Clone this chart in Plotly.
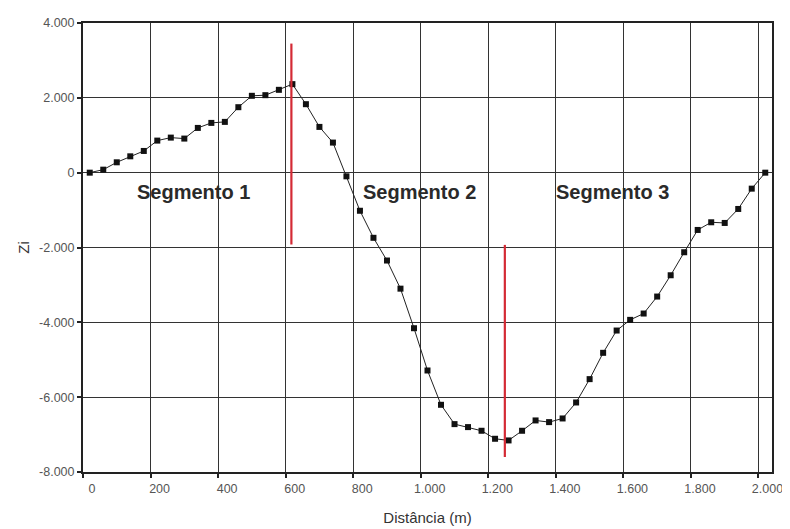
import plotly.graph_objects as go

# Data
distance = [20 + 40 * k for k in range(51)]
zi = [0, 80, 277, 437, 580, 857, 937, 911, 1196, 1330, 1357, 1750, 2054, 2071,
      2214, 2366, 1830, 1223, 804, -98, -1018, -1741, -2348, -3100, -4157, -5287,
      -6204, -6720, -6800, -6898, -7112, -7156, -6898, -6622, -6667, -6569, -6142,
      -5518, -4815, -4219, -3934, -3765, -3311, -2742, -2127, -1531, -1326, -1344,
      -970, -427, 0]

break1_x = [617, 617]
break1_y = [3450, -1920]
break2_x = [1249, 1249]
break2_y = [-1930, -7600]

seg_labels = ["Segmento 1", "Segmento 2", "Segmento 3"]
seg_x = [326, 995, 1569]
seg_y = [-520, -520, -520]

x_tickvals = [0, 200, 400, 600, 800, 1000, 1200, 1400, 1600, 1800, 2000]
x_ticktext = ["0", "200", "400", "600", "800", "1.000", "1.200", "1.400", "1.600", "1.800", "2.000"]
y_tickvals = [4000, 2000, 0, -2000, -4000, -6000, -8000]
y_ticktext = ["4.000", "2.000", "0", "-2.000", "-4.000", "-6.000", "-8.000"]

fig = go.Figure()

fig.add_trace(go.Scatter(
    x=distance, y=zi, mode="lines+markers",
    line=dict(color="#222222", width=1),
    marker=dict(symbol="square", size=6, color="#111111"),
    showlegend=False, hoverinfo="skip"))

for bx, by in [(break1_x, break1_y), (break2_x, break2_y)]:
    fig.add_trace(go.Scatter(
        x=bx, y=by, mode="lines",
        line=dict(color="#d42a35", width=2.2),
        showlegend=False, hoverinfo="skip"))

for t, ax_, ay_ in zip(seg_labels, seg_x, seg_y):
    fig.add_annotation(x=ax_, y=ay_, text=t, showarrow=False,
                       font=dict(family="Liberation Sans", size=20, color="#2a2a2a", weight="bold"),
                       xanchor="center", yanchor="middle")

# page body has an 8px default margin, so the figure is sized/offset to compensate
fig.update_layout(
    width=782, height=521,
    margin=dict(l=75, r=18, t=15, b=57),
    paper_bgcolor="white", plot_bgcolor="white",
    font=dict(family="Liberation Sans", color="#555555"),
)

fig.update_xaxes(
    range=[0, 2040], tickvals=x_tickvals, ticktext=x_ticktext,
    automargin=False,
    showgrid=True, gridcolor="#333333", gridwidth=1,
    showline=True, linecolor="#222222", linewidth=2, mirror=True,
    ticks="outside", ticklen=4, tickcolor="#222222", tickwidth=2,
    ticklabelshift=9,
    tickfont=dict(size=12.5, color="#555555"),
    zeroline=False,
    title=dict(text="Distância (m)", font=dict(size=15, color="#333333"), standoff=17),
)
fig.update_yaxes(
    range=[-8000, 4000], tickvals=y_tickvals, ticktext=y_ticktext,
    automargin=False,
    showgrid=True, gridcolor="#333333", gridwidth=1,
    showline=True, linecolor="#222222", linewidth=2, mirror=True,
    ticks="outside", ticklen=4, tickcolor="#222222", tickwidth=1.5,
    tickfont=dict(size=12.5, color="#555555"),
    zeroline=False,
    title=dict(text="Zi", font=dict(size=15, color="#333333"), standoff=6),
)

fig.write_html("out.html")
